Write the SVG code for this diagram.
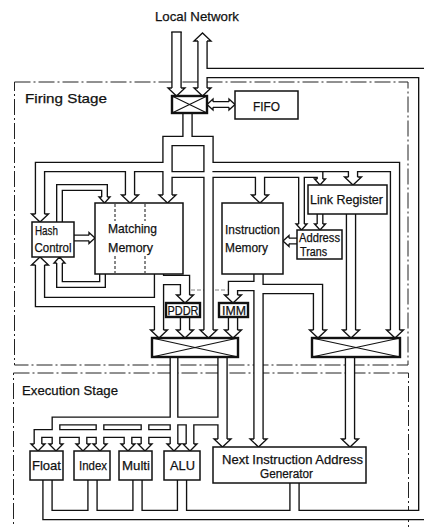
<svg xmlns="http://www.w3.org/2000/svg" width="424" height="527" viewBox="0 0 424 527">
<style>
.bd{fill:none;stroke:#222;stroke-width:1;stroke-dasharray:16 3 2 3}
.kW{fill:none;stroke:#111;stroke-width:10.5}
.wW{fill:none;stroke:#fff;stroke-width:7.8}
.kM{fill:none;stroke:#111;stroke-width:9}
.wM{fill:none;stroke:#fff;stroke-width:6.3}
.kN{fill:none;stroke:#111;stroke-width:7}
.wN{fill:none;stroke:#fff;stroke-width:4.3}
.ah{fill:#fff;stroke:#111;stroke-width:1.35}
.box{fill:#fff;stroke:#111;stroke-width:1.5}
.thk{fill:#fff;stroke:#111;stroke-width:2.4}
.x{stroke:#111;stroke-width:1.1;fill:none}
.dv{stroke:#111;stroke-width:1;stroke-dasharray:3 2}
.fd{stroke:#777;stroke-width:0.9;stroke-dasharray:4 2;fill:none}
.cap{stroke:#111;stroke-width:1.35;fill:none}
.t{font-family:"Liberation Sans",Arial,sans-serif;font-size:13.5px;fill:#111;stroke:#111;stroke-width:0.25}
.s{font-size:12px}
.m{font-size:12.5px}
</style>
<defs>
<path id="pW" d="M176.5,32V88 M202.5,41V88 M202.5,73H423.25V515H47.5V475 M92.5,475V515 M137.5,475V515 M182,475V515 M294.5,478V515 M187.5,110V141 M167.5,195V141H208.5V330 M167.5,167H40V214 M208.5,167H395V330 M130,167V195 M353,167V177 M159,270V330 M159,280H185V295 M159,302H40V265 M185,315V330 M258.5,270V439 M258.5,289H318V330 M258.5,286H233V295 M233,315V330 M351,210V330 M222.5,355V439 M350,355V439 M260,174.5V195"/>
<path id="pM" d="M174,355V444 M222.5,421H56V444 M100,421V444 M145,421V444 M190,421V444 M174,433.5H38V444 M83,433.5V444 M128,433.5V444"/>
<path id="pN" d="M213,104.5H229 M167.5,174.5H320V179 M301.5,174.5V224 M320,210V224 M300,241H289 M70,238H89 M59.5,226V187.5H104.5V197 M102.5,270V284.5H59.5V263"/>
<path id="hW" class="ah" d="M-4.55,-8H-8.5L0,0L8.5,-8H4.55"/>
<path id="hM" class="ah" d="M-3.8,-7H-7L0,0L7,-7H3.8"/>
<path id="hN" class="ah" d="M-2.8,-6H-5.5L0,0L5.5,-6H2.8"/>
</defs>

<g id="boundaries">
<rect class="bd" x="14.5" y="82" width="393.5" height="283"/>
<rect class="bd" x="13.5" y="373" width="395" height="170"/>
</g>

<g id="connectors">
<path class="fd" d="M191,290H227.5"/>
<use href="#pW" class="kW"/>
<use href="#pM" class="kM"/>
<use href="#pN" class="kN"/>
<use href="#pW" class="wW"/>
<use href="#pM" class="wM"/>
<use href="#pN" class="wN"/>
<path class="cap" d="M171.25,32H181.75"/>
<use href="#hW" transform="translate(176.5,96)"/>
<use href="#hW" transform="translate(202.5,96)"/>
<use href="#hW" transform="translate(202.5,33) rotate(180)"/>
<use href="#hW" transform="translate(167.5,203)"/>
<use href="#hW" transform="translate(208.5,338)"/>
<use href="#hW" transform="translate(40,222)"/>
<use href="#hW" transform="translate(130,203)"/>
<use href="#hW" transform="translate(353,185)"/>
<use href="#hW" transform="translate(159,338)"/>
<use href="#hW" transform="translate(185,303)"/>
<use href="#hW" transform="translate(185,338)"/>
<use href="#hW" transform="translate(233,303)"/>
<use href="#hW" transform="translate(233,338)"/>
<use href="#hW" transform="translate(318,338)"/>
<use href="#hW" transform="translate(351,338)"/>
<use href="#hW" transform="translate(395,338)"/>
<use href="#hW" transform="translate(258.5,447)"/>
<use href="#hW" transform="translate(222.5,447)"/>
<use href="#hW" transform="translate(350,447)"/>
<use href="#hW" transform="translate(260,203)"/>
<use href="#hW" transform="translate(40,257) rotate(180)"/>
<use href="#hM" transform="translate(174,451)"/>
<use href="#hM" transform="translate(56,451)"/>
<use href="#hM" transform="translate(100,451)"/>
<use href="#hM" transform="translate(145,451)"/>
<use href="#hM" transform="translate(190,451)"/>
<use href="#hM" transform="translate(38,451)"/>
<use href="#hM" transform="translate(83,451)"/>
<use href="#hM" transform="translate(128,451)"/>
<use href="#hN" transform="translate(207,104.5) rotate(90)"/>
<use href="#hN" transform="translate(235,104.5) rotate(-90)"/>
<use href="#hN" transform="translate(320,185)"/>
<use href="#hN" transform="translate(301.5,230)"/>
<use href="#hN" transform="translate(320,230)"/>
<use href="#hN" transform="translate(283,241) rotate(90)"/>
<use href="#hN" transform="translate(95,238) rotate(-90)"/>
<use href="#hN" transform="translate(104.5,203)"/>
<use href="#hN" transform="translate(59.5,257) rotate(180)"/>
</g>

<g id="labels">
<text class="t" x="155" y="21" textLength="84" lengthAdjust="spacingAndGlyphs">Local Network</text>
<text class="t" x="25" y="103" textLength="82" lengthAdjust="spacingAndGlyphs">Firing Stage</text>
<text class="t" x="22" y="395" textLength="96" lengthAdjust="spacingAndGlyphs">Execution Stage</text>
</g>

<g id="switch-top">
<rect class="thk" x="172" y="96" width="35" height="17"/>
<path class="x" d="M172,96L207,113M172,113L207,96"/>
</g>
<g id="fifo">
<rect class="box" x="235" y="91" width="63" height="28"/>
<text class="t" x="253" y="111" textLength="27" lengthAdjust="spacingAndGlyphs">FIFO</text>
</g>
<g id="hash-control">
<rect class="box" x="32" y="222" width="42" height="35"/>
<text class="t" x="35" y="235" textLength="23" lengthAdjust="spacingAndGlyphs">Hash</text>
<text class="t" x="34.5" y="251.5" textLength="37" lengthAdjust="spacingAndGlyphs">Control</text>
</g>
<g id="matching-memory">
<rect class="box" x="95" y="203" width="88" height="71"/>
<path class="dv" d="M115,204V221M145,204V221M115,256V273M145,256V273"/>
<text class="t" x="108" y="233" textLength="49" lengthAdjust="spacingAndGlyphs">Matching</text>
<text class="t" x="108" y="252" textLength="45" lengthAdjust="spacingAndGlyphs">Memory</text>
</g>
<g id="instruction-memory">
<rect class="box" x="222" y="203" width="61" height="71"/>
<text class="t" x="225" y="234" textLength="55" lengthAdjust="spacingAndGlyphs">Instruction</text>
<text class="t" x="225" y="252" textLength="43" lengthAdjust="spacingAndGlyphs">Memory</text>
</g>
<g id="link-register">
<rect class="box" x="308" y="185" width="79" height="29"/>
<text class="t" x="310" y="204" textLength="73" lengthAdjust="spacingAndGlyphs">Link Register</text>
</g>
<g id="address-trans">
<rect class="box" x="297" y="230" width="45" height="29"/>
<text class="t s" x="299" y="242" textLength="41" lengthAdjust="spacingAndGlyphs">Address</text>
<text class="t s" x="300" y="256" textLength="27" lengthAdjust="spacingAndGlyphs">Trans</text>
</g>
<g id="pddr">
<rect class="thk" x="166" y="303" width="34" height="14"/>
<text class="t" x="167.5" y="315" textLength="31" lengthAdjust="spacingAndGlyphs">PDDR</text>
</g>
<g id="imm">
<rect class="thk" x="219" y="303" width="29" height="14"/>
<text class="t" x="222" y="315" textLength="24" lengthAdjust="spacingAndGlyphs">IMM</text>
</g>
<g id="switch-left">
<rect class="thk" x="152" y="338" width="86" height="19"/>
<path class="x" d="M152,338L238,357M152,357L238,338"/>
</g>
<g id="switch-right">
<rect class="thk" x="312" y="338" width="88" height="19"/>
<path class="x" d="M312,338L400,357M312,357L400,338"/>
</g>
<g id="float">
<rect class="box" x="30" y="451" width="33" height="29"/>
<text class="t" x="32" y="470" textLength="29" lengthAdjust="spacingAndGlyphs">Float</text>
</g>
<g id="index">
<rect class="box" x="74" y="451" width="36" height="29"/>
<text class="t" x="79" y="470" textLength="28" lengthAdjust="spacingAndGlyphs">Index</text>
</g>
<g id="multi">
<rect class="box" x="119" y="451" width="33" height="29"/>
<text class="t" x="122" y="470" textLength="28" lengthAdjust="spacingAndGlyphs">Multi</text>
</g>
<g id="alu">
<rect class="box" x="164" y="451" width="36" height="29"/>
<text class="t" x="170" y="470" textLength="25" lengthAdjust="spacingAndGlyphs">ALU</text>
</g>
<g id="niag">
<rect class="box" x="213" y="447" width="153" height="36"/>
<text class="t m" x="222" y="463.5" textLength="141" lengthAdjust="spacingAndGlyphs">Next Instruction Address</text>
<text class="t m" x="260" y="478" textLength="53" lengthAdjust="spacingAndGlyphs">Generator</text>
</g>
</svg>
